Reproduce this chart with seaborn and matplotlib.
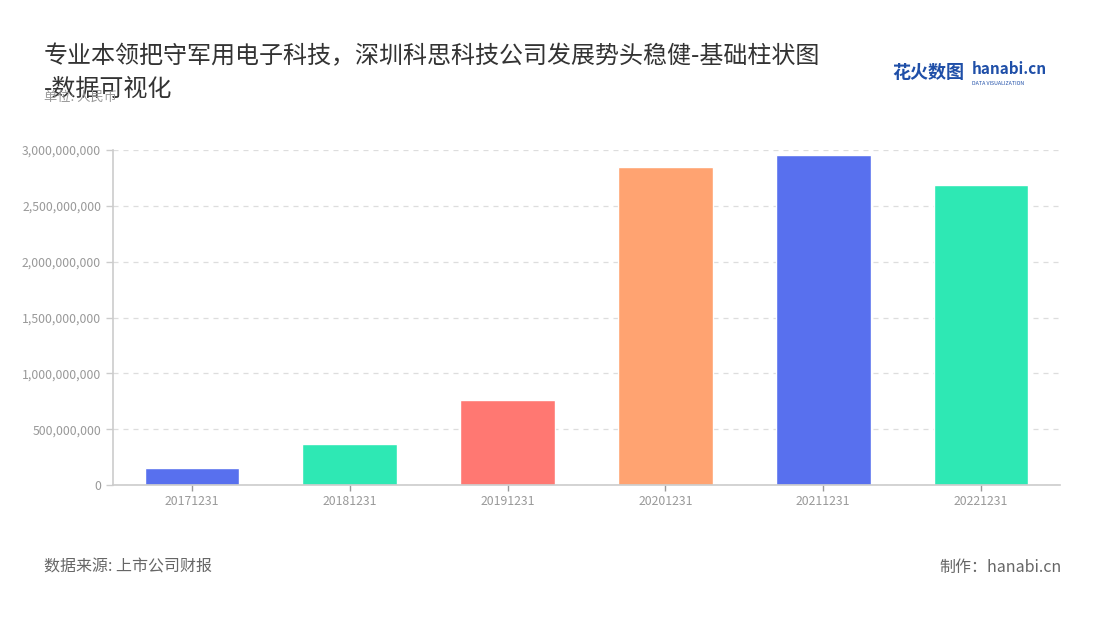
import matplotlib
matplotlib.use("Agg")
import matplotlib.pyplot as plt
import matplotlib.ticker as mticker
import pandas as pd
import seaborn as sns

# data
periods = ["20171231", "20181231", "20191231", "20201231", "20211231", "20221231"]
values = [155_000_000, 364_000_000, 758_000_000, 2_845_000_000, 2_952_000_000, 2_689_000_000]
bar_colors = ["#5870ee", "#2ee8b4", "#ff7872", "#ffa371", "#5870ee", "#2ee8b4"]
y_ticks = [0, 500_000_000, 1_000_000_000, 1_500_000_000, 2_000_000_000, 2_500_000_000, 3_000_000_000]

df = pd.DataFrame({"period": periods, "value": values})

sns.set_theme(style="white")
plt.rcParams["font.family"] = ["Noto Sans CJK SC", "DejaVu Sans"]

fig = plt.figure(figsize=(11, 6.2), dpi=100)
ax = fig.add_axes([0.1027, 0.2177, 0.861, 0.5403])

sns.barplot(
    data=df,
    x="period",
    y="value",
    hue="period",
    palette=dict(zip(periods, bar_colors)),
    legend=False,
    width=0.6,
    saturation=1,
    ax=ax,
)

ax.set_ylim(0, 3_000_000_000)
ax.set_xlim(-0.5, len(periods) - 0.5)
ax.set_yticks(y_ticks)
ax.yaxis.set_major_formatter(mticker.FuncFormatter(lambda v, _: f"{int(v):,}"))
ax.grid(axis="y", color="#dddddd", linestyle=(0, (4, 4)), linewidth=0.9)
ax.set_axisbelow(True)
ax.set_xlabel("")
ax.set_ylabel("")

for side in ["top", "right"]:
    ax.spines[side].set_visible(False)
for side in ["left", "bottom"]:
    ax.spines[side].set_color("#cccccc")
    ax.spines[side].set_linewidth(1.2)
ax.tick_params(axis="y", colors="#cccccc", labelcolor="#999999", labelsize=8.8,
               length=5, width=1, direction="out", left=True)
ax.tick_params(axis="x", colors="#999999", labelcolor="#999999", labelsize=8.8,
               length=4, width=1, direction="out", bottom=True)

# titles and notes (the unit line sits under the title's second line, as in the reference)
fig.text(0.04, 0.91, "专业本领把守军用电子科技，深圳科思科技公司发展势头稳健-基础柱状图",
         fontsize=17.3, color="#333333", va="center")
fig.text(0.04, 0.857, "-数据可视化", fontsize=17.3, color="#333333", va="center")
fig.text(0.04, 0.843, "单位: 人民币", fontsize=9.5, color="#999999", va="center")
fig.text(0.04, 0.085, "数据来源: 上市公司财报", fontsize=11.5, color="#666666", va="center")
fig.text(0.965, 0.085, "制作：hanabi.cn", fontsize=11.5, color="#666666", va="center", ha="right")

# logo
fig.text(0.811, 0.883, "花火数图", fontsize=13, color="#1f4fa8", fontweight="bold", va="center")
fig.text(0.883, 0.888, "hanabi.cn", fontsize=11, color="#1f4fa8", fontweight="bold", va="center")
fig.text(0.884, 0.866, "DATA VISUALIZATION", fontsize=3.8, color="#1f4fa8", va="center")

fig.savefig("out.png", dpi=100)
